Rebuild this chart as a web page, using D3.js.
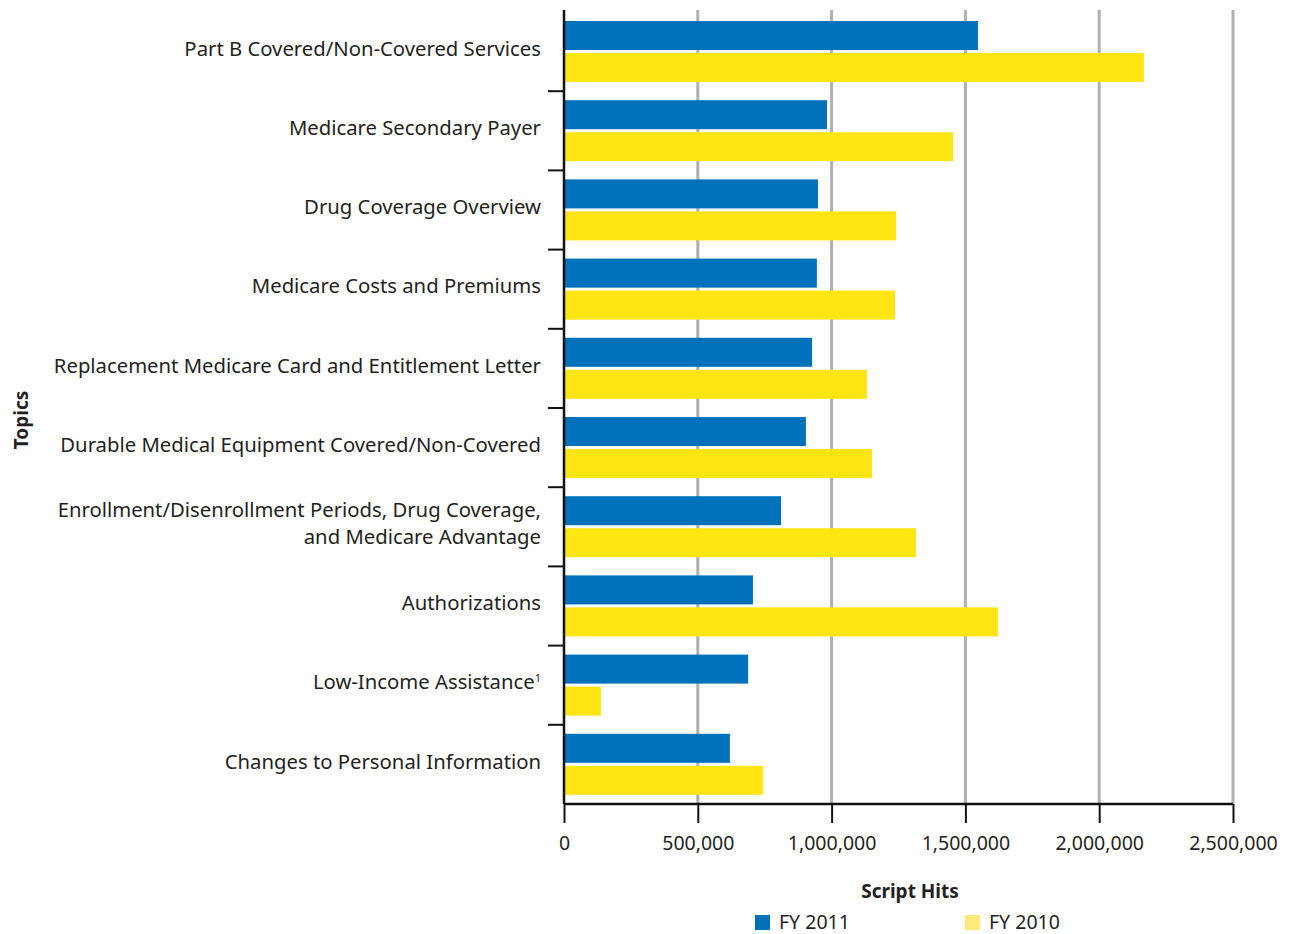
<!DOCTYPE html>
<html><head><meta charset="utf-8">
<script src="https://cdn.jsdelivr.net/npm/d3@7"></script>
<style>
body{margin:0;background:#fff;}
text{font-family:"Noto Sans","Open Sans",sans-serif;fill:#231f20;}
</style></head>
<body><svg id="c" width="1293" height="934"></svg>
<script>
const categories = [
  "Part B Covered/Non-Covered Services",
  "Medicare Secondary Payer",
  "Drug Coverage Overview",
  "Medicare Costs and Premiums",
  "Replacement Medicare Card and Entitlement Letter",
  "Durable Medical Equipment Covered/Non-Covered",
  "Enrollment/Disenrollment Periods, Drug Coverage,|and Medicare Advantage",
  "Authorizations",
  "Low-Income Assistance^1",
  "Changes to Personal Information"
];
const fy2011 = [1547000, 983000, 949000, 945000, 927000, 904000, 811000, 706000, 688000, 620000];
const fy2010 = [2167000, 1454000, 1241000, 1237000, 1132000, 1151000, 1315000, 1622000, 138000, 744000];
const xTicks = [0, 500000, 1000000, 1500000, 2000000, 2500000];
const seriesNames = ["FY 2011", "FY 2010"];
const colors = ["#0072bc", "#ffe512"];
const legendColors = ["#0072bc", "#ffe97a"];

const svg = d3.select("#c");
const L = 564, R = 1233, T = 12, B = 804;
const x = d3.scaleLinear().domain([0, 2500000]).range([L, R]);
const y = d3.scaleBand().domain(categories).range([T, B]);
const step = y.step();

// grid
svg.append("g").selectAll("line").data(xTicks.slice(1)).join("line")
  .attr("x1", d => x(d)).attr("x2", d => x(d)).attr("y1", 10).attr("y2", B)
  .attr("stroke", "#b0b0b2").attr("stroke-width", 3);

// bars
const g = svg.append("g");
categories.forEach((c, i) => {
  const y0 = y(c);
  g.append("rect").attr("x", x(0)).attr("y", y0 + 9).attr("width", x(fy2011[i]) - x(0)).attr("height", 29).attr("fill", colors[0]);
  g.append("rect").attr("x", x(0)).attr("y", y0 + 41).attr("width", x(fy2010[i]) - x(0)).attr("height", 29).attr("fill", colors[1]);
});

// y axis
const ya = svg.append("g");
ya.append("line").attr("x1", L).attr("x2", L).attr("y1", 10).attr("y2", B).attr("stroke", "#111").attr("stroke-width", 2.5);
ya.selectAll("line.t").data(categories.slice(1)).join("line").attr("class", "t")
  .attr("x1", 548).attr("x2", L).attr("y1", d => y(d)).attr("y2", d => y(d))
  .attr("stroke", "#111").attr("stroke-width", 2);

// category labels
categories.forEach(c => {
  const cy = y(c) + step / 2 - 3;
  if (c.includes("|")) {
    const parts = c.split("|");
    parts.forEach((p, k) => {
      svg.append("text").attr("text-anchor", "end").attr("font-size", 20.3)
        .attr("x", 541).attr("y", cy + (k === 0 ? -13.5 : 13.5)).attr("dy", "0.35em").text(p);
    });
  } else if (c.includes("^")) {
    const parts = c.split("^");
    const t = svg.append("text").attr("text-anchor", "end").attr("font-size", 20.3).attr("x", 541)
      .attr("y", cy).attr("dy", "0.35em");
    t.append("tspan").text(parts[0]);
    t.append("tspan").attr("font-size", 11).attr("dy", "-0.7em").text(parts[1]);
  } else {
    svg.append("text").attr("text-anchor", "end").attr("font-size", 20.3).attr("x", 541)
      .attr("y", cy).attr("dy", "0.35em").text(c);
  }
});

// x axis
const xa = svg.append("g").attr("transform", `translate(0,${B})`)
  .call(d3.axisBottom(x).tickValues(xTicks).tickSize(19).tickPadding(13).tickFormat(d3.format(",")));
xa.select(".domain").attr("stroke", "#111").attr("stroke-width", 2.5).attr("d", `M${L},0H${R}`);
xa.selectAll(".tick line").attr("stroke", "#111").attr("stroke-width", 2);
xa.selectAll(".tick text").attr("font-size", 19.5).attr("font-family", "'Noto Sans',sans-serif").attr("fill", "#231f20");

// axis titles
svg.append("text").attr("x", 910).attr("y", 898).attr("text-anchor", "middle").attr("font-weight", "bold").attr("font-size", 19).text("Script Hits");
svg.append("text").attr("transform", "translate(28,420) rotate(-90)").attr("text-anchor", "middle").attr("font-weight", "bold").attr("font-size", 19).text("Topics");

// legend
const lx = [755, 965];
seriesNames.forEach((s, i) => {
  svg.append("rect").attr("x", lx[i]).attr("y", 915).attr("width", 15).attr("height", 15).attr("fill", legendColors[i]);
  svg.append("text").attr("x", lx[i] + 24).attr("y", 929).attr("font-size", 19.5).text(s);
});
</script></body></html>
